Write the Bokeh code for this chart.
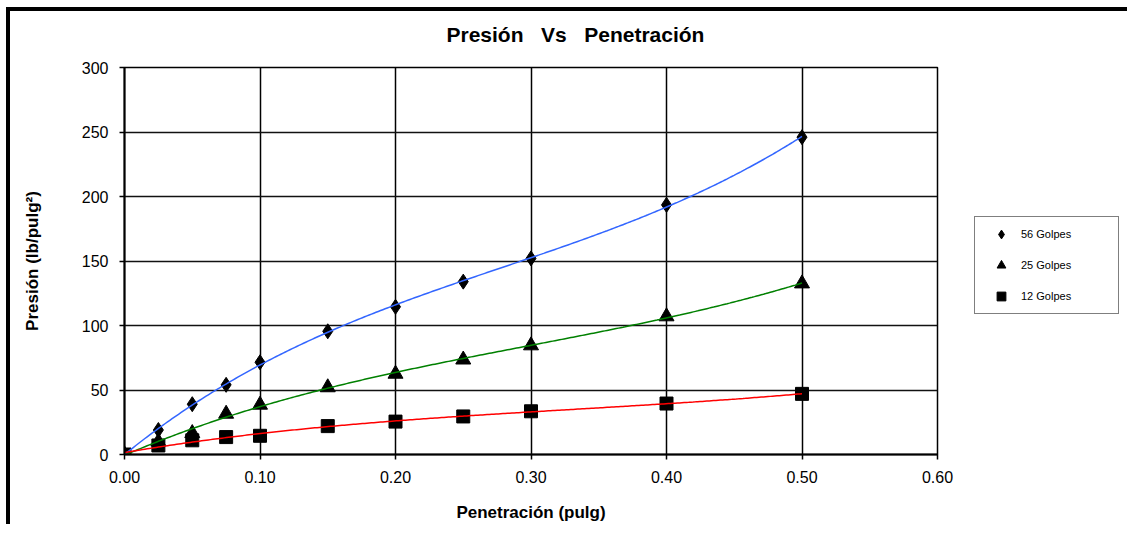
import numpy as np
from bokeh.plotting import figure
from bokeh.models import (FixedTicker, NumeralTickFormatter, Legend, LegendItem, Range1d, Title)
from bokeh.layouts import column
from bokeh.embed import file_html
from bokeh.resources import INLINE

# ---- data ----
penetracion = [0.0, 0.025, 0.05, 0.075, 0.1, 0.15, 0.2, 0.25, 0.3, 0.4, 0.5]
golpes_56 = [0, 19, 39, 54, 71.5, 95.5, 114.5, 134, 152, 193.5, 246]
golpes_25 = [0, 10, 16.5, 31.5, 38.5, 52, 62.5, 73.5, 84.5, 107, 132.5]
golpes_12 = [0, 7, 11, 13.5, 14.5, 22, 25.5, 29.5, 33.5, 39.5, 47]
series_names = ["56 Golpes", "25 Golpes", "12 Golpes"]
x_ticks = [0.0, 0.1, 0.2, 0.3, 0.4, 0.5, 0.6]
y_ticks = [0, 50, 100, 150, 200, 250, 300]
chart_title = "Presión\u00a0\u00a0\u00a0Vs\u00a0\u00a0\u00a0Penetración"

FONT = "Liberation Sans"

p = figure(
    frame_width=813, frame_height=387,
    min_border_left=114, min_border_right=185, min_border_top=56, min_border_bottom=70,
    x_range=Range1d(0, 0.6), y_range=Range1d(0, 300),
    output_backend="svg", toolbar_location=None, title=None,
)
p.background_fill_color = "white"
p.border_fill_color = "white"
p.outline_line_color = "black"
p.outline_line_width = 1.5

# spacer (nearest the frame) then the real title above it
p.add_layout(Title(text=" ", text_font_size="1px", standoff=11), "above")
p.add_layout(Title(text=chart_title, align="left", offset=322, text_font=FONT,
                   text_font_size="21px", text_font_style="bold", text_color="black",
                   standoff=16), "above")

# axes
p.xaxis.ticker = FixedTicker(ticks=x_ticks)
p.yaxis.ticker = FixedTicker(ticks=y_ticks)
p.xaxis.formatter = NumeralTickFormatter(format="0.00")
for ax in (p.xaxis, p.yaxis):
    ax.axis_line_color = "black"
    ax.axis_line_width = 2
    ax.major_tick_line_color = "black"
    ax.major_tick_line_width = 1.5
    ax.major_tick_out = 5
    ax.major_tick_in = 0
    ax.minor_tick_line_color = None
    ax.major_label_text_font = FONT
    ax.major_label_text_font_size = "16px"
    ax.major_label_text_color = "black"
    ax.axis_label_text_font = FONT
    ax.axis_label_text_font_size = "17px"
    ax.axis_label_text_font_style = "bold"
    ax.axis_label_text_color = "black"
p.xaxis.axis_label = "Penetración (pulg)"
p.yaxis.axis_label = "Presión (lb/pulg²)"
p.xaxis.major_label_standoff = 11
p.yaxis.major_label_standoff = 11
p.xaxis.axis_label_standoff = 17
p.yaxis.axis_label_standoff = 37

p.xgrid.grid_line_color = "black"
p.xgrid.grid_line_width = 1.5
p.ygrid.grid_line_color = "#111111"
p.ygrid.grid_line_width = 1.5

# markers
r56 = p.scatter(penetracion, golpes_56, marker="diamond", size=15, color="black")
r25 = p.scatter(penetracion, golpes_25, marker="triangle", size=15, color="black")
r12 = p.scatter(penetracion, golpes_12, marker="square", size=13, color="black")

# polynomial trend lines (fitted from the data)
xs = np.linspace(0, max(penetracion), 300)
for vals, col in ((golpes_56, "#3366ff"), (golpes_25, "#008000"), (golpes_12, "#ff0000")):
    coef = np.polyfit(penetracion, vals, 3)
    p.line(xs, np.polyval(coef, xs), line_color=col, line_width=1.5)

# legend outside the frame, on the right
legend = Legend(
    items=[LegendItem(label=series_names[0], renderers=[r56]),
           LegendItem(label=series_names[1], renderers=[r25]),
           LegendItem(label=series_names[2], renderers=[r12])],
    location=(37, 140),
    border_line_color="black", border_line_width=1.5,
    background_fill_color="white", background_fill_alpha=1.0,
    padding=6, margin=0, spacing=9,
    glyph_width=40, glyph_height=22, label_standoff=0, label_width=91,
    label_text_font=FONT, label_text_font_size="11px", label_text_color="black",
)
p.add_layout(legend, "right")

layout = column(p, styles={"margin-left": "6px", "margin-top": "7px",
                           "border-left": "4px solid black", "border-top": "4px solid black"})

with open("out.html", "w") as f:
    f.write(file_html(layout, INLINE))
